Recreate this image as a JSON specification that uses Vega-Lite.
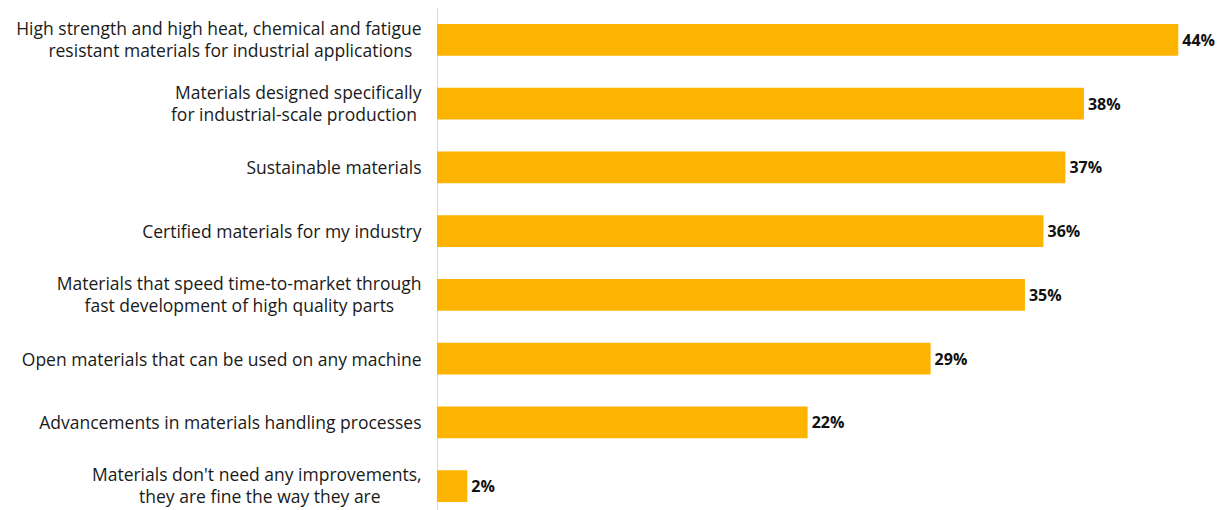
{
  "$schema": "https://vega.github.io/schema/vega-lite/v6.json",
  "width": 780,
  "height": 510,
  "autosize": {"type": "none"},
  "padding": {"left": 437, "top": 8, "right": 0, "bottom": 0},
  "background": "white",
  "config": {"view": {"stroke": null}, "font": "Open Sans"},
  "data": {
    "values": [
      {"item": "High strength and high heat, chemical and fatigue|resistant materials for industrial applications\u00a0\u00a0\u200b", "share": 0.44},
      {"item": "Materials designed specifically|for industrial-scale production\u00a0\u200b", "share": 0.384},
      {"item": "Sustainable materials", "share": 0.373},
      {"item": "Certified materials for my industry", "share": 0.36},
      {"item": "Materials that speed time-to-market through|fast development of high quality parts\u00a0\u00a0\u00a0\u00a0\u00a0\u00a0\u200b", "share": 0.349},
      {"item": "Open materials that can be used on any machine", "share": 0.293},
      {"item": "Advancements in materials handling processes", "share": 0.22},
      {"item": "Materials don't need any improvements,|they are fine the way they are\u00a0\u00a0\u00a0\u00a0\u00a0\u00a0\u00a0\u00a0\u00a0\u200b", "share": 0.018}
    ]
  },
  "encoding": {
    "y": {
      "field": "item",
      "type": "nominal",
      "sort": null,
      "scale": {"paddingInner": 0.5, "paddingOuter": 0.25},
      "axis": {
        "title": null,
        "ticks": false,
        "domainColor": "#d9d9d9",
        "domainWidth": 1,
        "labelPadding": 16,
        "labelFontSize": 17.5,
        "labelColor": "#1a1a1a",
        "labelLineHeight": 22,
        "labelLimit": 0,
        "labelOffset": {"condition": {"test": "indexof(datum.value, '|') >= 0", "value": -10}, "value": 2},
        "labelExpr": "split(datum.value, '|')"
      }
    },
    "x": {
      "field": "share",
      "type": "quantitative",
      "scale": {"domain": [0, 0.463], "nice": false},
      "axis": null
    }
  },
  "layer": [
    {"mark": {"type": "bar", "color": "#FDB400"}},
    {
      "mark": {"type": "text", "align": "left", "dx": 4, "dy": 1, "fontSize": 16, "fontWeight": "bold", "color": "#111111"},
      "encoding": {"text": {"field": "share", "type": "quantitative", "format": ".0%"}}
    }
  ]
}
